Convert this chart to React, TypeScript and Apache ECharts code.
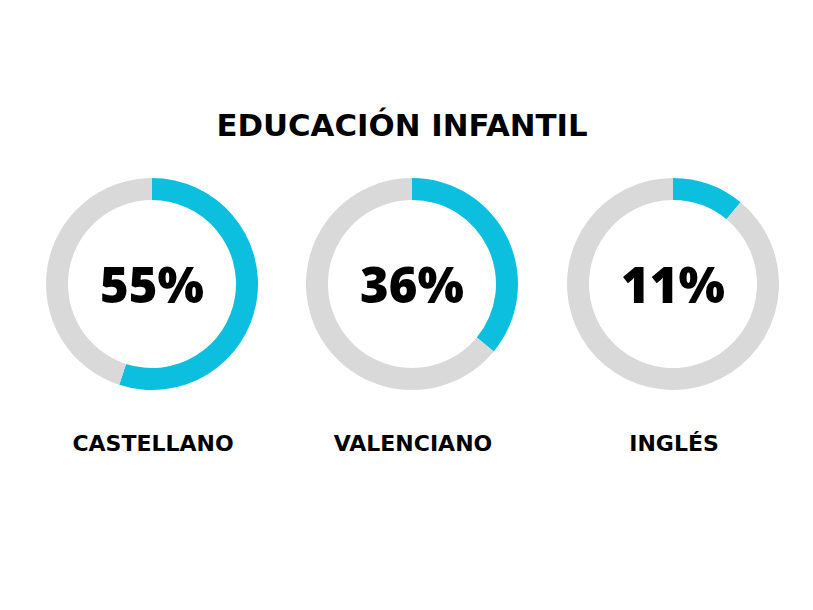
import React, { useEffect, useRef } from "react";
import * as echarts from "echarts";

const title = "EDUCACIÓN INFANTIL";
const categories = ["CASTELLANO", "VALENCIANO", "INGLÉS"];
const values = [55, 36, 11];
const centersX = [152, 412, 673];

const CYAN = "#0DBFDF";
const GREY = "#D9D9D9";

export default function App() {
  const ref = useRef<HTMLDivElement>(null);
  useEffect(() => {
    document.body.style.margin = "0";
    const chart = echarts.init(ref.current!, null, { renderer: "svg" });
    const series = values.map((v, i) => ({
      type: "pie",
      center: [centersX[i], 284],
      radius: [84, 106],
      startAngle: 90,
      clockwise: true,
      silent: true,
      labelLine: { show: false },
      label: { show: false },
      data: [
        {
          value: v,
          name: categories[i],
          itemStyle: { color: CYAN },
          label: {
            show: true,
            position: "center",
            formatter: "{c}%",
            fontFamily: "Open Sans",
            fontWeight: 800,
            fontSize: 49,
            color: "#000",
          },
        },
        { value: 100 - v, name: "rest", itemStyle: { color: GREY } },
      ],
    }));
    chart.setOption({
      animation: false,
      backgroundColor: "#fff",
      series,
      graphic: [
        {
          type: "text",
          x: 402,
          y: 125,
          style: {
            text: title,
            textAlign: "center",
            textVerticalAlign: "middle",
            fontFamily: "DejaVu Sans",
            fontWeight: "bold",
            fontSize: 30.8,
            fill: "#000",
          },
        },
        ...categories.map((c, i) => ({
          type: "text",
          x: centersX[i] + 1,
          y: 443,
          style: {
            text: c,
            textAlign: "center",
            textVerticalAlign: "middle",
            fontFamily: "DejaVu Sans",
            fontWeight: "bold",
            fontSize: 22,
            fill: "#000",
          },
        })),
      ],
    });
    return () => chart.dispose();
  }, []);
  return <div ref={ref} style={{ width: 813, height: 610 }} />;
}
